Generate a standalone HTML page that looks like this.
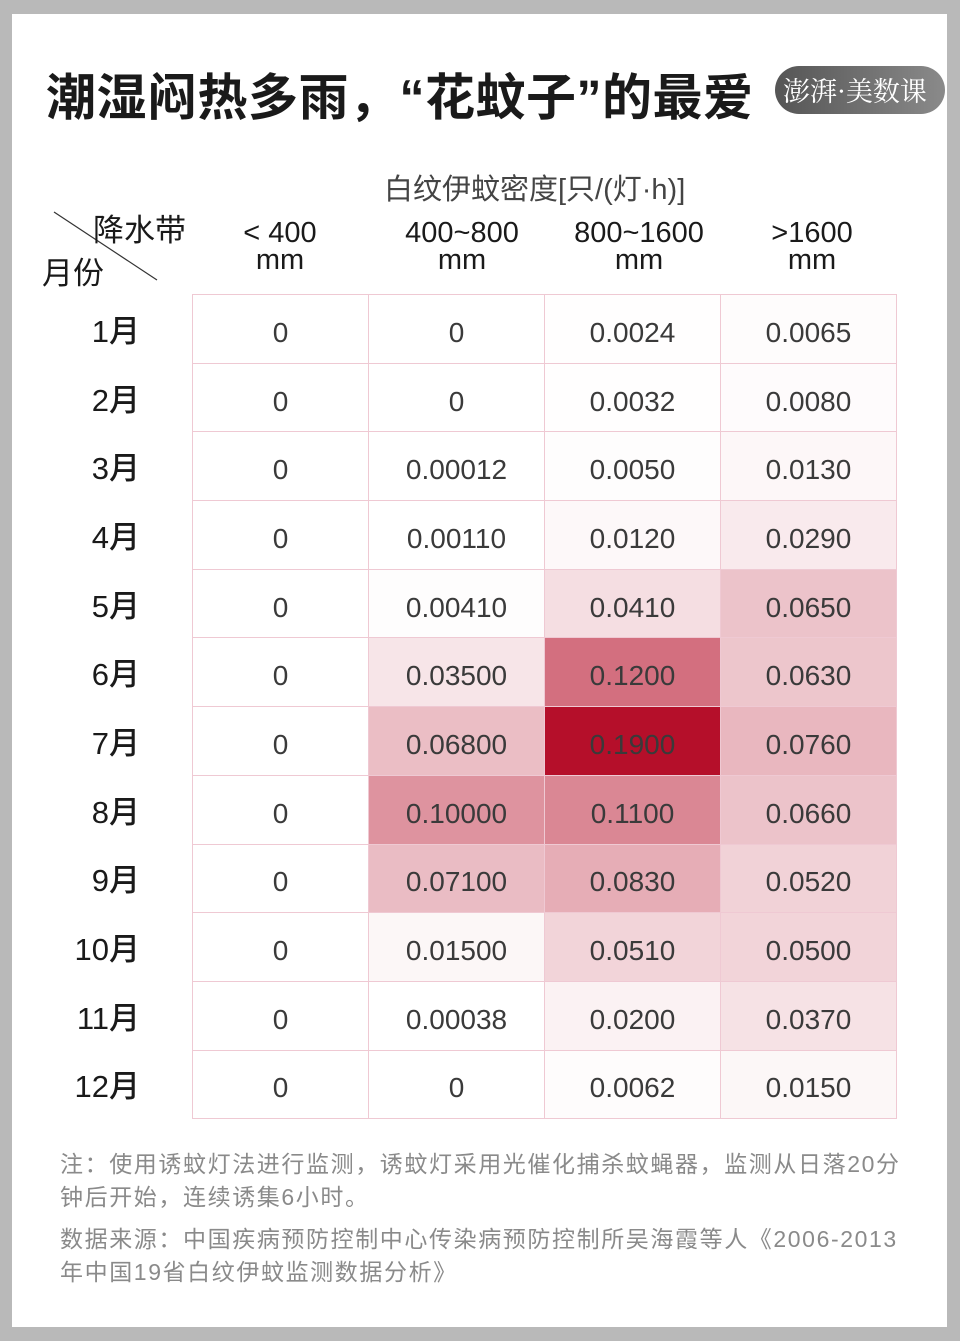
<!DOCTYPE html>
<html><head><meta charset="utf-8"><style>
*{margin:0;padding:0;box-sizing:border-box}
body{width:960px;height:1341px;background:#b9b9b9;position:relative;overflow:hidden;font-family:"Liberation Sans","Noto Sans CJK SC",sans-serif}
.page{position:absolute;left:12px;top:14px;width:935px;height:1313px;background:#fff}
.t{position:absolute;white-space:nowrap}
.title{left:46px;top:58px;font-size:50px;font-weight:bold;color:#1a1a1a;letter-spacing:0.5px}
.logo{left:775px;top:66px;width:170px;height:48px;border-radius:24px;background:linear-gradient(90deg,#555,#8a8a8a);color:#fff;font-size:27px;line-height:48px;padding-left:8px;font-family:"Noto Serif CJK SC",serif;overflow:hidden}
.hdr{font-size:29px;color:#1a1a1a;text-align:center;line-height:27px}
.grid{position:absolute;left:192px;top:294px;border-collapse:collapse}
.grid td{width:176px;height:68.7px;border:1.5px solid #efc9d3;text-align:center;font-size:28px;color:#3a3a3a;padding-top:8px}
.m{position:absolute;right:820px;font-size:31px;color:#1a1a1a;font-weight:500;width:100px;text-align:right}
.note{left:60px;font-size:23px;color:#8a8a8a;line-height:33px;letter-spacing:1.6px}
</style></head><body>
<div class="page"></div>
<div class="t title">潮湿闷热多雨，“花蚊子”的最爱</div>
<div class="t logo">澎湃·美数课</div>
<div class="t" style="left:384px;top:166px;font-size:29px;color:#444">白纹伊蚊密度[只/(灯·h)]</div>
<svg style="position:absolute;left:0;top:0" width="960" height="300"><line x1="54" y1="212" x2="157" y2="280" stroke="#333" stroke-width="1.2"/></svg>
<div class="t" style="left:93px;top:205px;font-size:31px;color:#1a1a1a">降水带</div>
<div class="t" style="left:42px;top:248px;font-size:31px;color:#1a1a1a">月份</div>
<div class="t hdr" style="left:230px;top:220px;width:100px">&lt; 400<br>mm</div>
<div class="t hdr" style="left:392px;top:220px;width:140px">400~800<br>mm</div>
<div class="t hdr" style="left:562px;top:220px;width:154px">800~1600<br>mm</div>
<div class="t hdr" style="left:752px;top:220px;width:120px">&gt;1600<br>mm</div>
<table class="grid">
<tr><td>0</td><td>0</td><td style="background:rgba(181,15,42,.004)">0.0024</td><td style="background:rgba(181,15,42,.012)">0.0065</td></tr>
<tr><td>0</td><td>0</td><td style="background:rgba(181,15,42,.005)">0.0032</td><td style="background:rgba(181,15,42,.016)">0.0080</td></tr>
<tr><td>0</td><td>0.00012</td><td style="background:rgba(181,15,42,.009)">0.0050</td><td style="background:rgba(181,15,42,.03)">0.0130</td></tr>
<tr><td>0</td><td>0.00110</td><td style="background:rgba(181,15,42,.028)">0.0120</td><td style="background:rgba(181,15,42,.087)">0.0290</td></tr>
<tr><td>0</td><td style="background:rgba(181,15,42,.007)">0.00410</td><td style="background:rgba(181,15,42,.137)">0.0410</td><td style="background:rgba(181,15,42,.25)">0.0650</td></tr>
<tr><td>0</td><td style="background:rgba(181,15,42,.11)">0.03500</td><td style="background:rgba(181,15,42,.6)">0.1200</td><td style="background:rgba(181,15,42,.24)">0.0630</td></tr>
<tr><td>0</td><td style="background:rgba(181,15,42,.27)">0.06800</td><td style="background:rgb(181,15,42)">0.1900</td><td style="background:rgba(181,15,42,.3)">0.0760</td></tr>
<tr><td>0</td><td style="background:rgba(181,15,42,.45)">0.10000</td><td style="background:rgba(181,15,42,.5)">0.1100</td><td style="background:rgba(181,15,42,.25)">0.0660</td></tr>
<tr><td>0</td><td style="background:rgba(181,15,42,.28)">0.07100</td><td style="background:rgba(181,15,42,.34)">0.0830</td><td style="background:rgba(181,15,42,.19)">0.0520</td></tr>
<tr><td>0</td><td style="background:rgba(181,15,42,.037)">0.01500</td><td style="background:rgba(181,15,42,.18)">0.0510</td><td style="background:rgba(181,15,42,.18)">0.0500</td></tr>
<tr><td>0</td><td>0.00038</td><td style="background:rgba(181,15,42,.053)">0.0200</td><td style="background:rgba(181,15,42,.12)">0.0370</td></tr>
<tr><td>0</td><td>0</td><td style="background:rgba(181,15,42,.011)">0.0062</td><td style="background:rgba(181,15,42,.037)">0.0150</td></tr>
</table>
<div class="t m" style="top:306px">1月</div>
<div class="t m" style="top:375px">2月</div>
<div class="t m" style="top:443px">3月</div>
<div class="t m" style="top:512px">4月</div>
<div class="t m" style="top:581px">5月</div>
<div class="t m" style="top:649px">6月</div>
<div class="t m" style="top:718px">7月</div>
<div class="t m" style="top:787px">8月</div>
<div class="t m" style="top:855px">9月</div>
<div class="t m" style="top:924px">10月</div>
<div class="t m" style="top:993px">11月</div>
<div class="t m" style="top:1061px">12月</div>
<div class="t note" style="top:1148px">注：使用诱蚊灯法进行监测，诱蚊灯采用光催化捕杀蚊蝇器，监测从日落20分<br>钟后开始，连续诱集6小时。</div>
<div class="t note" style="top:1223px">数据来源：中国疾病预防控制中心传染病预防控制所吴海霞等人《2006-2013<br>年中国19省白纹伊蚊监测数据分析》</div>
</body></html>
